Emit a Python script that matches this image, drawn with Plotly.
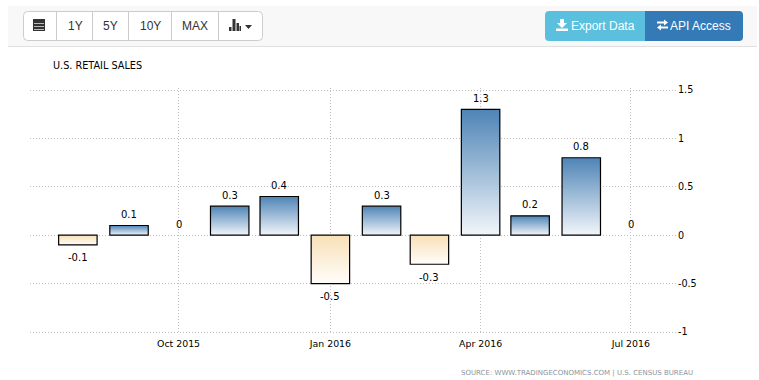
import plotly.graph_objects as go

W, H = 759, 380
dates = ["2015-08-01","2015-09-01","2015-10-01","2015-11-01","2015-12-01","2016-01-01",
         "2016-02-01","2016-03-01","2016-04-01","2016-05-01","2016-06-01","2016-07-01"]
values = [-0.1, 0.1, 0, 0.3, 0.4, -0.5, 0.3, -0.3, 1.3, 0.2, 0.8, 0]
labels = ["-0.1","0.1","0","0.3","0.4","-0.5","0.3","-0.3","1.3","0.2","0.8","0"]
x_tick_vals = ["2015-10-01","2016-01-01","2016-04-01","2016-07-01"]
x_tick_text = ["Oct 2015","Jan 2016","Apr 2016","Jul 2016"]
y_tick_vals = [-1,-0.5,0,0.5,1,1.5]
y_tick_text = ["-1","-0.5","0","0.5","1","1.5"]
title = "U.S. RETAIL SALES"
source = "SOURCE: WWW.TRADINGECONOMICS.COM | U.S. CENSUS BUREAU"
range_buttons = ["1Y","5Y","10Y","MAX"]

FONT = "DejaVu Sans"
BTN_FONT = "Liberation Sans"
px = lambda v: v / W
py = lambda v: 1 - v / H

fig = go.Figure(go.Bar(
    x=dates, y=values, width=23.3 * 86400000,
    marker=dict(color=["#f8e0b8" if v < 0 else "#4682b4" for v in values],
                line=dict(color="#000000", width=[1.2 if v != 0 else 0 for v in values])),
    hoverinfo="skip", showlegend=False))

shapes = []
ann = []

def rect(x0, y0, x1, y1, fill, line=None, lw=1, rx=0):
    if rx:
        p = (f"M{px(x0+rx)},{py(y0)} L{px(x1-rx)},{py(y0)} Q{px(x1)},{py(y0)} {px(x1)},{py(y0+rx)} "
             f"L{px(x1)},{py(y1-rx)} Q{px(x1)},{py(y1)} {px(x1-rx)},{py(y1)} L{px(x0+rx)},{py(y1)} "
             f"Q{px(x0)},{py(y1)} {px(x0)},{py(y1-rx)} L{px(x0)},{py(y0+rx)} Q{px(x0)},{py(y0)} {px(x0+rx)},{py(y0)} Z")
        shapes.append(dict(type="path", xref="paper", yref="paper", path=p, fillcolor=fill,
                           line=dict(color=line or fill, width=lw), layer="below"))
    else:
        shapes.append(dict(type="rect", xref="paper", yref="paper", x0=px(x0), x1=px(x1), y0=py(y0), y1=py(y1),
                           fillcolor=fill, line=dict(color=line or fill, width=lw if line else 0), layer="below"))

def poly(points, fill):
    p = "M" + " L".join(f"{px(a)},{py(b)}" for a, b in points) + " Z"
    shapes.append(dict(type="path", xref="paper", yref="paper", path=p, fillcolor=fill,
                       line=dict(width=0), layer="above"))

def text(x, y, s, size=12, color="#333333", font=BTN_FONT, anchor="center"):
    ann.append(dict(xref="paper", yref="paper", x=px(x), y=py(y), text=s, showarrow=False,
                    xanchor=anchor, yanchor="middle", font=dict(family=font, size=size, color=color)))

# toolbar panel
rect(8, 6, 757, 46, "#f8f8f8")
rect(8, 46, 757, 47, "#e0e0e0")
rect(23.5, 11.5, 262.5, 40.5, "#ffffff", "#cccccc", 1, 4)
seps = [56.5, 92.5, 128.5, 171.5, 218.5]
for s in seps:
    rect(s - .5, 12, s + .5, 40, "#cccccc")
for s, cx in zip(range_buttons, [75, 110.5, 150, 195]):
    text(cx, 25.7, s)
# calendar icon
rect(33, 19, 45, 31, "#333333")
for yy in (23, 26, 29):
    rect(34, yy, 44, yy + 1, "#bbbbbb")
# chart + caret icon
rect(229, 27, 231.5, 31, "#333333"); rect(232.5, 19, 235.5, 31, "#333333"); rect(236.5, 23, 239, 31, "#333333")
rect(239.5, 26, 241, 31, "#333333")
poly([(245, 25), (252, 25), (248.5, 29)], "#333333")
# export and API buttons
rect(545, 11, 650, 41, "#5bc0de", None, 0, 4)
rect(645, 11, 743, 41, "#337ab7", None, 0, 4)
rect(645, 11, 650, 41, "#337ab7")
text(603, 25.7, "Export Data", color="#ffffff")
text(700.5, 25.7, "API Access", color="#ffffff")
poly([(560, 19), (564, 19), (564, 23), (567, 23), (562, 28), (557, 23), (560, 23)], "#ffffff")
rect(556, 28.5, 568, 31, "#ffffff")
poly([(657, 21.5), (664, 21.5), (664, 19.5), (668, 22.5), (664, 25.5), (664, 23.5), (657, 23.5)], "#ffffff")
poly([(668, 26.5), (661, 26.5), (661, 24.5), (657, 27.5), (661, 30.5), (661, 28.5), (668, 28.5)], "#ffffff")

text(50.5, 65.5, title, size=9.7, color="#000000", font=FONT, anchor="left")
text(577, 373, source, size=7, color="#8a94a0", font=FONT)

for d, v, t in zip(dates, values, labels):
    ann.append(dict(x=d, y=v, xref="x", yref="y", text=t, showarrow=False, xanchor="center", yanchor="middle",
                    yshift=(-13 if v < 0 else 11), font=dict(family=FONT, size=10, color="#000000")))

GRID = "#c0c0c0"
# Small headroom past -1 and 1.5 so that the end gridlines are kept by the axis.
UNIT = 96.8
PAD = 0.02
TOP, BOTTOM = 90.0, 332.0
fig.update_layout(
    width=W, height=H, autosize=False, margin=dict(l=0, r=0, t=0, b=0),
    paper_bgcolor="#ffffff", plot_bgcolor="#ffffff", shapes=shapes, annotations=ann,
    xaxis=dict(type="date", domain=[px(30), px(677)], range=["2015-07-03", "2016-07-29"], automargin=False,
               tickvals=x_tick_vals, ticktext=x_tick_text, tickfont=dict(family=FONT, size=9.4, color="#000000"),
               showgrid=True, griddash="1px,2px", gridcolor=GRID, gridwidth=1, zeroline=False, showline=False,
               ticks="", tickangle=0, ticklabelstandoff=3),
    yaxis=dict(domain=[py(BOTTOM + PAD * UNIT), py(TOP - PAD * UNIT)], range=[-1 - PAD, 1.5 + PAD],
               side="right", automargin=False,
               tickvals=y_tick_vals, ticktext=y_tick_text, tickfont=dict(family=FONT, size=9.6, color="#000000"),
               showgrid=True, griddash="1px,2px", gridcolor=GRID, gridwidth=1, zeroline=False, showline=False, ticks=""),
)

post = """
document.body.style.margin = '0';
var gd = document.querySelector('.js-plotly-plot');
var svg = gd.querySelector('svg.main-svg');
var ns = 'http://www.w3.org/2000/svg';
var defs = svg.querySelector('defs');
function grad(id, c0, c1){
  var g = document.createElementNS(ns,'linearGradient');
  g.setAttribute('id',id); g.setAttribute('x1','0'); g.setAttribute('y1','0'); g.setAttribute('x2','0'); g.setAttribute('y2','1');
  [[0,c0],[1,c1]].forEach(function(s){var t=document.createElementNS(ns,'stop');t.setAttribute('offset',s[0]);t.setAttribute('stop-color',s[1]);g.appendChild(t);});
  defs.appendChild(g);
}
grad('posGrad','#4e84b6','#f2f6fa');
grad('negGrad','#f8e0b8','#fffdfa');
var vals = gd.data[0].y;
gd.querySelectorAll('.bars .point path').forEach(function(p,i){
  p.style.fill = 'url(#' + (vals[i] < 0 ? 'negGrad' : 'posGrad') + ')';
});
"""
fig.write_html("out.html", post_script=post, config={"displayModeBar": False})
